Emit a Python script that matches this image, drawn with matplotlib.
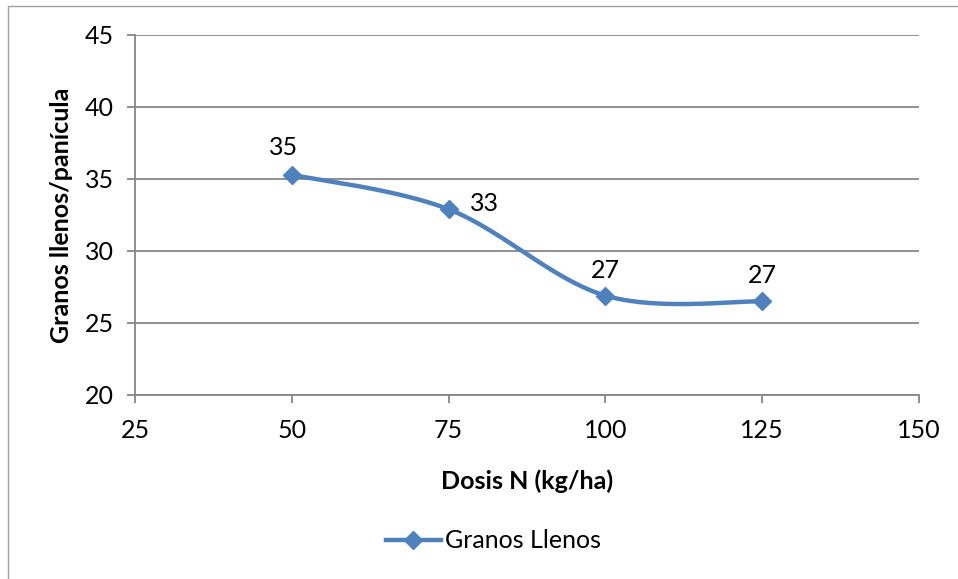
import matplotlib.pyplot as plt
import numpy as np
from matplotlib.patches import Rectangle

plt.rcParams['font.family'] = ['Lato', 'DejaVu Sans']

dosis = [50, 75, 100, 125]
granos = [35.3, 32.9, 26.9, 26.5]
labels = ["35", "33", "27", "27"]
label_offsets = [(-8, 16), (36, 6), (0, 14), (0, 14)]  # px, relative to marker

BLUE = "#4F81BD"
GRID = "#868686"


def smooth(xs, ys, n=60):
    """Excel-style smoothed line: cubic Bezier with Catmull-Rom control points."""
    p = np.column_stack([xs, ys]).astype(float)
    p_ext = np.vstack([p[0], p, p[-1]])
    out = []
    t = np.linspace(0, 1, n)[:, None]
    for i in range(len(p) - 1):
        p0, p1, p2, p3 = p_ext[i], p_ext[i + 1], p_ext[i + 2], p_ext[i + 3]
        c1 = p1 + (p2 - p0) / 6
        c2 = p2 - (p3 - p1) / 6
        seg = ((1 - t) ** 3) * p1 + 3 * ((1 - t) ** 2) * t * c1 \
            + 3 * (1 - t) * t ** 2 * c2 + t ** 3 * p2
        out.append(seg)
    seg = np.vstack(out)
    return seg[:, 0], seg[:, 1]


fig = plt.figure(figsize=(9.58, 5.79), dpi=100)
ax = fig.add_axes([135 / 958, 1 - 395 / 579, 784 / 958, 360 / 579])

sx, sy = smooth(dosis, granos)
ax.plot(sx, sy, color=BLUE, lw=3.2, solid_capstyle="round", zorder=3)
ax.plot(dosis, granos, ls="none", marker="D", ms=9.5, color=BLUE, zorder=4)

for x, y, t, (dx, dy) in zip(dosis, granos, labels, label_offsets):
    ax.annotate(t, (x, y), xytext=(dx, dy), textcoords="offset pixels",
                ha="center", va="bottom" if dy > 10 else "center",
                fontsize=18, color="black")

ax.set_xlim(25, 150)
ax.set_ylim(20, 45)
ax.set_xticks(np.arange(25, 151, 25))
ax.set_yticks(np.arange(20, 46, 5))
ax.yaxis.grid(True, color=GRID, lw=1.3)
ax.set_axisbelow(True)
for s in ["top", "right"]:
    ax.spines[s].set_visible(False)
for s in ["left", "bottom"]:
    ax.spines[s].set_color(GRID)
    ax.spines[s].set_linewidth(1.3)
ax.tick_params(axis="both", colors=GRID, labelcolor="black", labelsize=18,
               length=6, width=1.3)
ax.tick_params(axis="x", pad=11)
ax.tick_params(axis="y", pad=9)

ax.set_xlabel("Dosis N (kg/ha)", fontsize=18, fontweight="bold", labelpad=20)
ax.set_ylabel("Granos llenos/panícula", fontsize=18, fontweight="bold", labelpad=9)

leg = ax.legend([plt.Line2D([], [], color=BLUE, lw=3.2, marker="D", ms=9.5)],
                ["Granos Llenos"], loc="center", bbox_to_anchor=(0.457, -0.405),
                frameon=False, fontsize=18, handlelength=2.2, handletextpad=0.15)

fig.patches.append(Rectangle((8 / 958, -0.05), 1.1, 1 - 6 / 579 + 0.05,
                             transform=fig.transFigure, fill=False,
                             edgecolor="#A0A0A0", lw=1))

fig.savefig("out.png", dpi=100)
